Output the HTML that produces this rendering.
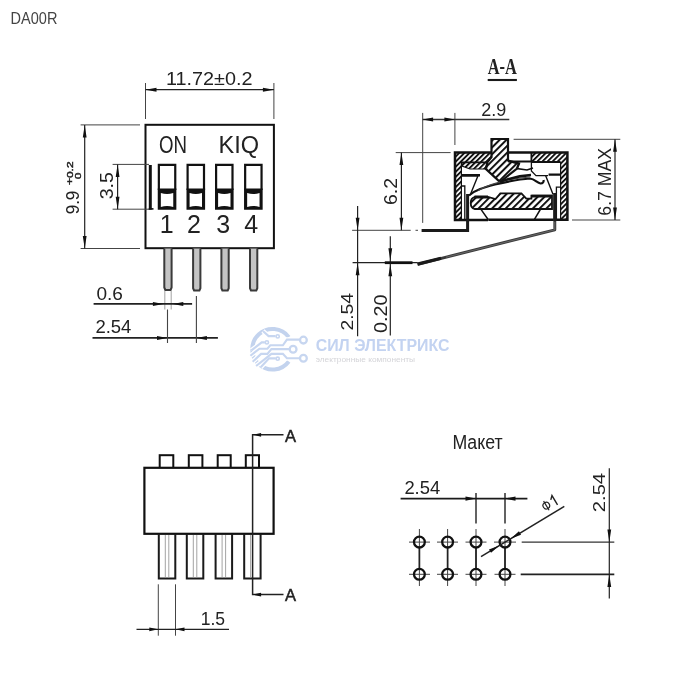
<!DOCTYPE html>
<html><head><meta charset="utf-8">
<style>
html,body{margin:0;padding:0;background:#fff;}
body{width:700px;height:700px;overflow:hidden;font-family:"Liberation Sans",sans-serif;}
svg{display:block;will-change:transform;}
text{font-family:"Liberation Sans",sans-serif;fill:#222;}
.s{font-family:"Liberation Serif",serif;}
</style></head><body>
<svg width="700" height="700" viewBox="0 0 700 700">
<defs>
<pattern id="h" width="4" height="4" patternUnits="userSpaceOnUse" patternTransform="rotate(-45)">
<rect width="4" height="4" fill="#fff"/><rect width="4" height="1.9" fill="#111"/>
</pattern>
</defs>
<rect width="700" height="700" fill="#fff"/>
<text x="10.6" y="24" font-size="17.2" textLength="46.8" lengthAdjust="spacingAndGlyphs" style="fill:#444">DA00R</text>

<!-- ===== WATERMARK ===== -->
<g id="wm" fill="none" stroke="#c7d6f0" stroke-width="2.1">
<path d="M288.8 337.1A20.3 20.3 0 1 0 288.8 361.5" stroke-width="4" stroke="#c3d3ee"/>
<path d="M262.9 331L268.6 336.1H275.6" stroke="#fff" stroke-width="4.6"/>
<path d="M264.9 342.4H261.7L251.4 350.4" stroke="#fff" stroke-width="4.6"/>
<path d="M299.4 339.6H286.9L282.9 345.3H270.3L267.4 348.7H259.4L250.4 355.8" stroke="#fff" stroke-width="4.6"/>
<path d="M289.1 349.1H271.4L267.4 353.9H261.1L252.7 361.7" stroke="#fff" stroke-width="4.6"/>
<path d="M299.4 358.2H286.9L282.9 353.9H271.4L256.1 366" stroke="#fff" stroke-width="4.6"/>
<path d="M275.8 358.4H269.1L260.7 367.3" stroke="#fff" stroke-width="4.6"/>
<path d="M262.9 331L268.6 336.1H275.6"/><circle cx="277.7" cy="336.4" r="1.6" stroke-width="1.6"/>
<path d="M264.9 342.4H261.7L251.4 350.4"/><circle cx="266.9" cy="342.4" r="1.6" stroke-width="1.6"/>
<path d="M299.4 339.6H286.9L282.9 345.3H270.3L267.4 348.7H259.4L250.4 355.8"/><circle cx="303.4" cy="340.1" r="3.4" stroke-width="2.3"/>
<path d="M289.1 349.1H271.4L267.4 353.9H261.1L252.7 361.7"/><circle cx="293.1" cy="349.3" r="3.4" stroke-width="2.3"/>
<path d="M299.4 358.2H286.9L282.9 353.9H271.4L256.1 366"/><circle cx="303.4" cy="358.2" r="3.4" stroke-width="2.3"/>
<path d="M275.8 358.4H269.1L260.7 367.3"/><circle cx="277.7" cy="358.7" r="1.6" stroke-width="1.6"/>
</g>
<text x="315.7" y="350.5" font-size="15.6" font-weight="bold" textLength="133.7" lengthAdjust="spacingAndGlyphs" style="fill:#c3d3f1">СИЛ ЭЛЕКТРИКС</text>
<text x="315.7" y="361.5" font-size="7.6" textLength="99.4" lengthAdjust="spacingAndGlyphs" style="fill:#d4d4d8">электронные компоненты</text>

<!-- ===== TOP LEFT VIEW ===== -->
<g id="tl" stroke="#111" fill="none">
<rect x="145.5" y="124.8" width="128.4" height="123.4" stroke-width="2"/>
<!-- top dim -->
<path d="M145.5 83V119M273.9 83V119" stroke-width="1" stroke="#444"/>
<path d="M145.5 89.7H273.9" stroke-width="1.2" stroke="#222"/>
<path d="M145.5 89.7l11 -2v4zM273.9 89.7l-11 -2v4z" fill="#111" stroke="none"/>
<!-- left dim 9.9 -->
<path d="M80.6 124.9H140M80.6 248.5H140" stroke-width="1" stroke="#444"/>
<path d="M84.7 124.9V248.5" stroke-width="1.2" stroke="#222"/>
<path d="M84.7 124.9l-1.9 12.5h3.8zM84.7 248.5l-1.9 -12.5h3.8z" fill="#111" stroke="none"/>
<!-- 3.5 dim -->
<path d="M112.6 164.4H149M112.6 209.2H149" stroke-width="1" stroke="#444"/>
<path d="M117.6 164.4V209.2" stroke-width="1.2" stroke="#222"/>
<path d="M117.6 164.4l-1.9 12.5h3.8zM117.6 209.2l-1.9 -12.5h3.8z" fill="#111" stroke="none"/>
<path d="M150.3 165V209.7" stroke-width="3"/><path d="M148.8 208.9H153.5" stroke-width="1.6"/>
<!-- switches -->
<path d="M158.85 190V164.8H175.25V190" stroke-width="2.2"/>
<path d="M157.75 188.6H176.35V209.7H157.75zM160.85 193Q167.05 195.2 173.25 193V206.9Q167.05 204.9 160.85 206.9z" fill="#111" stroke="none" fill-rule="evenodd"/>
<path d="M187.60 190V164.8H204.00V190" stroke-width="2.2"/>
<path d="M186.50 188.6H205.10V209.7H186.50zM189.60 193Q195.80 195.2 202.00 193V206.9Q195.80 204.9 189.60 206.9z" fill="#111" stroke="none" fill-rule="evenodd"/>
<path d="M216.10 190V164.8H232.50V190" stroke-width="2.2"/>
<path d="M215.00 188.6H233.60V209.7H215.00zM218.10 193Q224.30 195.2 230.50 193V206.9Q224.30 204.9 218.10 206.9z" fill="#111" stroke="none" fill-rule="evenodd"/>
<path d="M245.15 190V164.8H261.55V190" stroke-width="2.2"/>
<path d="M244.05 188.6H262.65V209.7H244.05zM247.15 193Q253.35 195.2 259.55 193V206.9Q253.35 204.9 247.15 206.9z" fill="#111" stroke="none" fill-rule="evenodd"/>
<!-- pins -->
<g stroke-width="2" stroke="#3a3a3a" fill="#c4c4c4">
<path d="M164.3 248.5V287.5l1 2.4h5.3l1 -2.4V248.5"/>
<path d="M193.1 248.5V288.2l1 2.4h5.3l1 -2.4V248.5"/>
<path d="M221.4 248.5V288.2l1 2.4h5.3l1 -2.4V248.5"/>
<path d="M250 248.5V288.2l1 2.4h5.3l1 -2.4V248.5"/>
</g>
<path d="M164.8 291V309.6M171.2 291V309.6" stroke="#aaa" stroke-width="1.1"/>
<!-- 0.6 dim -->
<path d="M93.6 303.9H192.1" stroke-width="1.7" stroke="#222"/>
<path d="M163.4 303.9l-10.5 -2v4zM172.8 303.9l10.5 -2v4z" fill="#111" stroke="none"/>
<!-- 2.54 dim -->
<path d="M92.5 337.9H217.9" stroke-width="1.7" stroke="#222"/>
<path d="M167.5 309.6V342.9M196.4 296.1V342.9" stroke-width="1.1" stroke="#444"/>
<path d="M167.5 337.9l-10.5 -2v4zM196.4 337.9l10.5 -2v4z" fill="#111" stroke="none"/>
</g>
<text x="166" y="84.9" font-size="17.6" textLength="86.5" lengthAdjust="spacingAndGlyphs">11.72±0.2</text>
<text x="159" y="153.4" font-size="23.5" textLength="28" lengthAdjust="spacingAndGlyphs">ON</text>
<text x="218.6" y="153.4" font-size="23.5" textLength="40.6" lengthAdjust="spacingAndGlyphs">KIQ</text>
<text x="166.6" y="232.8" font-size="25" text-anchor="middle">1</text>
<text x="194" y="232.8" font-size="25" text-anchor="middle">2</text>
<text x="223.3" y="232.8" font-size="25" text-anchor="middle">3</text>
<text x="251.3" y="232.8" font-size="25" text-anchor="middle">4</text>
<text x="96.4" y="299.8" font-size="17.6" textLength="26.5" lengthAdjust="spacingAndGlyphs">0.6</text>
<text x="95.4" y="333.4" font-size="17.6" textLength="36" lengthAdjust="spacingAndGlyphs">2.54</text>
<text transform="translate(113.3 199.3) rotate(-90)" font-size="17.5" textLength="27.2" lengthAdjust="spacingAndGlyphs">3.5</text>
<text transform="translate(78.6 214.3) rotate(-90)" font-size="17.5" textLength="23.6" lengthAdjust="spacingAndGlyphs">9.9</text>
<text transform="translate(72.7 185) rotate(-90)" font-size="9.6" textLength="23.6" lengthAdjust="spacingAndGlyphs" stroke="#222" stroke-width="0.45">+0.2</text>
<text transform="translate(80.6 179.2) rotate(-90)" font-size="9.6" textLength="6.6" lengthAdjust="spacingAndGlyphs" stroke="#222" stroke-width="0.45">0</text>

<!-- ===== SECTION A-A ===== -->
<defs>
<pattern id="h2" width="4.8" height="4.8" patternUnits="userSpaceOnUse" patternTransform="rotate(-45)">
<rect width="4.8" height="4.8" fill="#fff"/><rect width="4.8" height="2" fill="#111"/>
</pattern>
<pattern id="h1" width="3.6" height="3.6" patternUnits="userSpaceOnUse" patternTransform="rotate(-45)">
<rect width="3.6" height="3.6" fill="#fff"/><rect width="3.6" height="1.9" fill="#111"/>
</pattern>
</defs>
<g id="sec" stroke="#111" fill="none" stroke-linejoin="miter">
<!-- dims -->
<path d="M422.7 112.9V222.9M454.9 112.9V145" stroke-width="1" stroke="#444"/>
<path d="M422.6 119.6H509.3" stroke-width="1.5" stroke="#333"/>
<path d="M422.6 119.6l10.5 -2v4zM454.9 119.6l-10.5 -2v4z" fill="#111" stroke="none"/>
<path d="M395.7 152.6H450.6M352.1 230.3H410.7M415.5 230.3H418" stroke-width="1" stroke="#444"/>
<path d="M401.4 152.6V230.3" stroke-width="1.2" stroke="#222"/>
<path d="M401.4 152.6l-1.9 12.5h3.8zM401.4 230.3l-1.9 -12.5h3.8z" fill="#111" stroke="none"/>
<path d="M513.6 139.3H620.3M572 220H620.3" stroke-width="1" stroke="#444"/>
<path d="M615 139.3V220" stroke-width="1.2" stroke="#222"/>
<path d="M615 139.3l-1.9 12.5h3.8zM615 220l-1.9 -12.5h3.8z" fill="#111" stroke="none"/>
<path d="M357.6 206V336.3" stroke-width="1.2" stroke="#222"/>
<path d="M357.6 230.3l-1.9 -12.5h3.8zM357.6 262.7l-1.9 12.5h3.8z" fill="#111" stroke="none"/>
<path d="M390.3 236.3V335.5" stroke-width="1.2" stroke="#222"/>
<path d="M390.3 260.7l-1.9 -12.5h3.8zM390.3 264.3l-1.9 12h3.8z" fill="#111" stroke="none"/>
<path d="M352.6 262.7H417.7" stroke-width="1.3" stroke="#222"/>
<path d="M384.8 262.7H412.5" stroke-width="2.8"/>
<!-- leads -->
<!-- housing -->
<rect x="455" y="152.4" width="112.4" height="67.5" fill="#fff" stroke="none"/>
<rect x="455" y="152.4" width="6.4" height="67.5" fill="url(#h1)" stroke="none"/>
<rect x="561" y="152.4" width="6.4" height="67.5" fill="url(#h1)" stroke="none"/>
<rect x="455" y="152.4" width="36.5" height="9.6" fill="url(#h1)" stroke="none"/>
<rect x="531.4" y="152.4" width="36" height="9.6" fill="url(#h1)" stroke="none"/>
<path d="M462 162.5H487.5L485 169H470L462 166z" fill="url(#h1)" stroke-width="1.2"/>
<path d="M491.5 152.4H455V220H488M534 219.8H567.4V152.4H508" stroke-width="2.5"/>
<path d="M461.4 162V220M560.6 162V220" stroke-width="1.2"/>
<path d="M461.4 162.3H488M508 161.5H531.4V152.4M531.4 162H560.6" stroke-width="1.8"/>
<path d="M461.4 175.7H478L470.6 194M545.7 175.7L553.1 194.6" stroke-width="1.4"/>
<path d="M461.4 175.2H480M548.6 174.6H560.6" stroke-width="2.4"/>
<path d="M531.4 162V171L536 175.7H548" stroke-width="1.3"/>
<path d="M556.4 220V187.1H560.6" stroke-width="1.3"/>
<path d="M464.8 220V186H461.4" stroke-width="1.3"/>
<!-- slider -->
<path d="M491.5 139H508V160.5L519 163.5L517 168.5L500 182L486 169L487.5 162L491.5 157z" fill="url(#h2)" stroke-width="2.2"/>
<path d="M508 161.5L519 163.5L517 168.5L527 170L533 168" stroke-width="1.6"/>
<!-- spring -->
<path d="M469 195.5C475 190 484 187.5 495 184.5C510 181 522 179 530 178.5C535 179 537 183 540.5 183.5C543 183.5 544 181.5 543.5 180" stroke-width="2.2"/>
<path d="M478 190.5C490 184 510 178.5 530 177" stroke-width="1.2" stroke="#444"/>
<path d="M500 182C510 178 522 175.5 531 175" stroke-width="2.4"/>
<!-- base -->
<path d="M474.5 197H488L495.5 199L500.3 193.4H521.4L526.3 198.6H531.4V195.7H552V209H474.5C469.5 207.5 469.5 198.5 474.5 197z" fill="url(#h2)" stroke-width="1.8"/>
<path d="M531.4 196.2H552M474.5 197H488" stroke-width="2.8"/>
<path d="M481 209.4L488.3 219.7M540.6 209L534.3 219.7" stroke-width="1.5"/>
<path d="M488.3 219.7H534.3" stroke-width="2.6"/>
<!-- leads -->
<path d="M467.6 194V230.4H421.6" stroke-width="3" stroke="#1a1a1a"/>
<path d="M554.8 193V229.8L417.7 264.3" stroke-width="2.9" stroke="#3a3a3a" stroke-linejoin="round"/><path d="M554.8 193V221" stroke-width="3" stroke="#1a1a1a"/>
<path d="M554.8 222V229.8L446 257.2" stroke-width="0.6" stroke="#888"/>
<path d="M441 258.2L417.5 264.1" stroke-width="3.2" stroke="#1a1a1a"/>
</g>
<text x="487.7" y="73.8" font-size="22.6" font-weight="bold" class="s" textLength="29.2" lengthAdjust="spacingAndGlyphs">A-A</text>
<path d="M487.7 80H516.9" stroke="#1a1a1a" stroke-width="2.1"/>
<text x="481.3" y="116" font-size="17.6" textLength="25" lengthAdjust="spacingAndGlyphs">2.9</text>
<text transform="translate(397.4 205) rotate(-90)" font-size="17.6" textLength="27.1" lengthAdjust="spacingAndGlyphs">6.2</text>
<text transform="translate(611 215.7) rotate(-90)" font-size="17.6" textLength="67.8" lengthAdjust="spacingAndGlyphs">6.7 MAX</text>
<text transform="translate(352.8 330.6) rotate(-90)" font-size="16.2" textLength="37.7" lengthAdjust="spacingAndGlyphs">2.54</text>
<text transform="translate(386.6 333) rotate(-90)" font-size="17.6" textLength="38.5" lengthAdjust="spacingAndGlyphs">0.20</text>

<!-- ===== BOTTOM LEFT VIEW ===== -->
<g id="bl" stroke="#111" fill="none">
<g stroke-width="2">
<rect x="159.7" y="455.2" width="13.6" height="13"/>
<rect x="188.8" y="455.2" width="13.6" height="13"/>
<rect x="217.7" y="455.2" width="13" height="13"/>
<rect x="245.8" y="455.2" width="13.2" height="13"/>
</g>
<rect x="144.4" y="467.8" width="129.2" height="66" stroke-width="2.2" fill="#fff"/>
<g stroke-width="2" stroke="#1a1a1a">
<path d="M158.8 534V578.4H175.3V534"/>
<path d="M186.8 534V578.4H203.3V534"/>
<path d="M215.6 534V578.4H232.1V534"/>
<path d="M244.2 534V578.4H260.6V534"/>
</g>
<path d="M165.3 535V577.4M168.8 535V577.4M193.3 535V577.4M196.8 535V577.4M222.1 535V577.4M225.6 535V577.4M250.6 535V577.4" stroke="#999" stroke-width="0.9"/>
<!-- section line -->
<path d="M283.5 434.8H252.6V594.6H283.5" stroke-width="1.5" stroke="#222"/>
<path d="M252.6 434.8l8.5 -1.9v3.8zM252.6 594.6l8.5 -1.9v3.8z" fill="#111" stroke="none"/>
<!-- 1.5 dim -->
<path d="M158.3 584.3V635.7M175.5 584.3V635.7" stroke-width="1" stroke="#444"/>
<path d="M136.5 629.3H229" stroke-width="1.2" stroke="#222"/>
<path d="M158.3 629.3l-9 -1.9v3.8zM175.5 629.3l9 -1.9v3.8z" fill="#111" stroke="none"/>
</g>
<text x="285" y="441.9" font-size="17" textLength="11" lengthAdjust="spacingAndGlyphs" stroke="#222" stroke-width="0.5">A</text>
<text x="285" y="600.6" font-size="17" textLength="11" lengthAdjust="spacingAndGlyphs" stroke="#222" stroke-width="0.5">A</text>
<text x="200.7" y="625" font-size="17.6" textLength="24.4" lengthAdjust="spacingAndGlyphs">1.5</text>

<!-- ===== BOTTOM RIGHT ===== -->
<text x="452.4" y="449" font-size="19.4" textLength="50.2" lengthAdjust="spacingAndGlyphs" fill="#333">Макет</text>
<g id="br" stroke="#111" fill="none">
<g stroke-width="1" stroke="#444">
<path d="M419.4 529V586M447.6 529V586M476 529V586M505 529V586"/>
<path d="M419.4 547V569M447.6 547V569M476 547V569M505 547V569" stroke="#222" stroke-width="1.7"/>
<path d="M409 542.1H430M437 542.1H458M465.5 542.1H486.5M494 542.1H516"/>
<path d="M409 574.3H430M437 574.3H458M465.5 574.3H486.5M494.5 574.3H515.5"/>
</g>
<g stroke-width="2.3">
<circle cx="419.4" cy="542.1" r="5.4"/><circle cx="447.6" cy="542.1" r="5.4"/><circle cx="476" cy="542.1" r="5.4"/><circle cx="505" cy="542.1" r="5.4"/>
<circle cx="419.4" cy="574.3" r="5.4"/><circle cx="447.6" cy="574.3" r="5.4"/><circle cx="476" cy="574.3" r="5.4"/><circle cx="505" cy="574.3" r="5.4"/>
</g>
<!-- 2.54 horiz -->
<path d="M476 493V523.6M505 493V523.6" stroke-width="1.4" stroke="#222"/>
<path d="M400.6 498.6H527.4" stroke-width="1.8" stroke="#1a1a1a"/>
<path d="M476 498.6l-10.5 -2.2v4.4zM505 498.6l10.5 -2.2v4.4z" fill="#111" stroke="none"/>
<!-- leader -->
<path d="M481 556.6L564.3 506.4" stroke-width="1.5" stroke="#222"/>
<g transform="translate(505 542.1) rotate(-31.05)" fill="#111" stroke="none">
<path d="M6.5 0l11 -2v4zM-6.5 0l-11 -2v4z"/>
</g>
<!-- 2.54 vert -->
<path d="M521.7 542.1H614.3" stroke-width="1.1" stroke="#333"/>
<path d="M520.7 574.4H614.3" stroke-width="1.7" stroke="#222"/>
<path d="M609.3 468.3V598.6" stroke-width="1.2" stroke="#222"/>
<path d="M609.3 542.1l-1.9 -12.5h3.8zM609.3 574.5l-1.9 12.5h3.8z" fill="#111" stroke="none"/>
</g>
<text x="404.4" y="493.7" font-size="17.6" textLength="35.8" lengthAdjust="spacingAndGlyphs">2.54</text>
<text transform="translate(605.1 512.2) rotate(-90)" font-size="17" textLength="39.3" lengthAdjust="spacingAndGlyphs">2.54</text>
<g transform="translate(564.3 506.4) rotate(-31.05)">
<circle cx="-15" cy="-10" r="3.3" fill="none" stroke="#222" stroke-width="1.2"/>
<path d="M-15 -15.2V-4.6" stroke="#222" stroke-width="1.2"/>
<path d="M-8.2 -12.6L-5 -15.6V-4.8" stroke="#222" stroke-width="1.4" fill="none"/>
</g>
</svg>
</body></html>
